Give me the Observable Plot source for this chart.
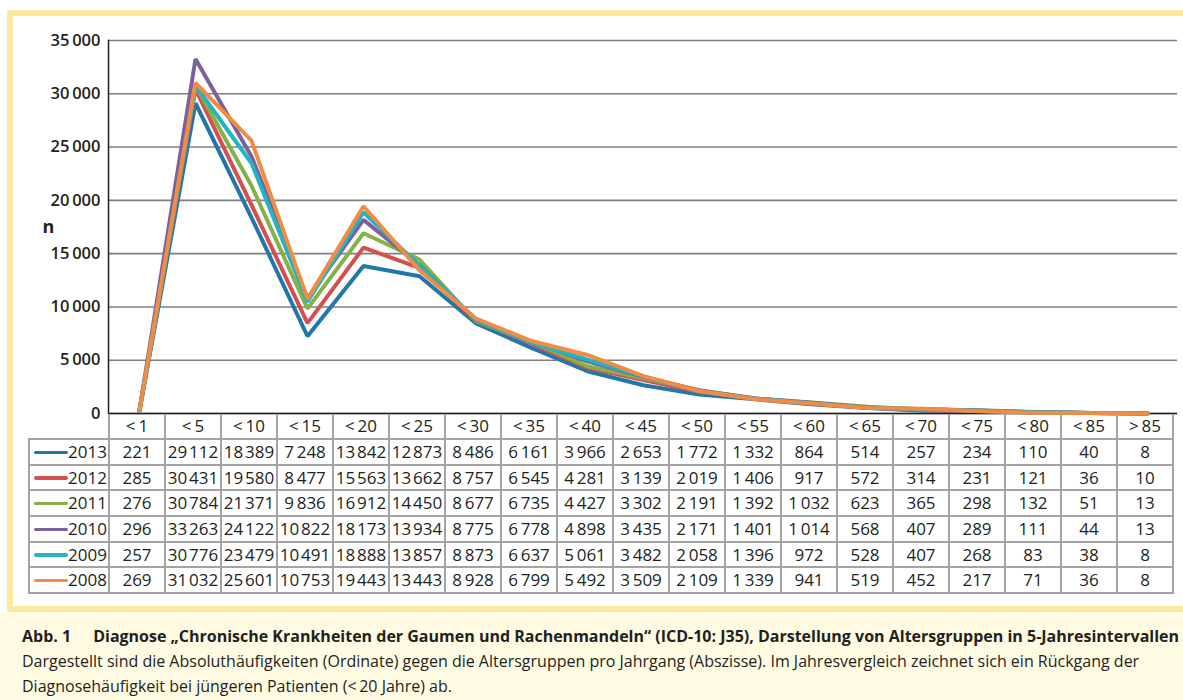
<!DOCTYPE html>
<html>
<head>
<meta charset="utf-8">
<script src="https://cdn.jsdelivr.net/npm/d3@7"></script>
<script src="https://cdn.jsdelivr.net/npm/@observablehq/plot@0.6"></script>
<style>
  html, body { margin: 0; padding: 0; }
  body { width: 1183px; height: 700px; overflow: hidden; position: relative; background: #fff; font-family: "Open Sans", sans-serif; color: #231f20; }
  #frame { position: absolute; left: 7px; top: 10px; width: 1200px; height: 590px; border: 6px solid #fce9a0; background: #fff; }
  #chart { position: absolute; left: 0; top: 0; }
  #tbl { position: absolute; left: 28px; top: 414px; border-collapse: collapse; table-layout: fixed; font-size: 17px; }
  #tbl td { border: 2px solid #a3a3a3; text-align: center; padding: 0; height: 23.7px; line-height: 20px; white-space: nowrap; overflow: hidden; }
  #tbl tr.head td { border-top: none; height: 24px; }
  #tbl tr.head td.corner { border-left: none; border-top: none; }
  #tbl td.leg { text-align: right; padding-right: 1px; }
  .sw { display: inline-block; width: 34px; height: 3.5px; border-radius: 2px; vertical-align: middle; margin-right: 0px; position: relative; top: -1px; }
  #caption { position: absolute; left: 0; top: 612px; width: 1183px; height: 88px; background: #fffbe3; font-size: 16px; line-height: 25px; padding: 12px 0 0 22px; box-sizing: border-box; }
  #caption b { font-weight: 700; }
</style>
</head>
<body>
<div id="frame"></div>
<div id="chart"></div>
<table id="tbl"></table>
<div id="caption">
  <div><b>Abb. 1<span style="display:inline-block;width:22px"></span>Diagnose „Chronische Krankheiten der Gaumen und Rachenmandeln“ (ICD-10: J35), Darstellung von Altersgruppen in 5-Jahresintervallen</b></div>
  <div>Dargestellt sind die Absoluthäufigkeiten (Ordinate) gegen die Altersgruppen pro Jahrgang (Abszisse). Im Jahresvergleich zeichnet sich ein Rückgang der</div>
  <div>Diagnosehäufigkeit bei jüngeren Patienten (&lt;&#8201;20 Jahre) ab.</div>
</div>
<script>
const categories = ["<1","<5","<10","<15","<20","<25","<30","<35","<40","<45","<50","<55","<60","<65","<70","<75","<80","<85",">85"];
const years = [2013, 2012, 2011, 2010, 2009, 2008];
const v2013 = [221,29112,18389,7248,13842,12873,8486,6161,3966,2653,1772,1332,864,514,257,234,110,40,8];
const v2012 = [285,30431,19580,8477,15563,13662,8757,6545,4281,3139,2019,1406,917,572,314,231,121,36,10];
const v2011 = [276,30784,21371,9836,16912,14450,8677,6735,4427,3302,2191,1392,1032,623,365,298,132,51,13];
const v2010 = [296,33263,24122,10822,18173,13934,8775,6778,4898,3435,2171,1401,1014,568,407,289,111,44,13];
const v2009 = [257,30776,23479,10491,18888,13857,8873,6637,5061,3482,2058,1396,972,528,407,268,83,38,8];
const v2008 = [269,31032,25601,10753,19443,13443,8928,6799,5492,3509,2109,1339,941,519,452,217,71,36,8];
const colors = ["#2277a9", "#d4504f", "#87b04b", "#7c629d", "#22b3c4", "#f08c43"];
const yTicks = [0, 5000, 10000, 15000, 20000, 25000, 30000, 35000];
const yLabel = "n";

const series = [v2013, v2012, v2011, v2010, v2009, v2008];
const data = [];
years.forEach((yr, i) => series[i].forEach((v, j) => data.push({year: yr, cat: categories[j], value: v})));

const thin = "\u2009";
const fmt = v => {
  const s = String(v);
  if (s.length <= 3) return s;
  return s.slice(0, s.length - 3) + (s.length >= 5 ? "\u200A" : thin) + s.slice(-3);
};
const fmtTick = v => v === 0 ? "0" : String(v).slice(0, -3) + "\u2009" + String(v).slice(-3);
const fmtCat = c => c.slice(0, 1) + "\u2009" + c.slice(1);

const chart = Plot.plot({
  width: 1183,
  height: 415,
  marginLeft: 108,
  marginRight: 6,
  marginTop: 40,
  marginBottom: 2,
  style: {background: "transparent", overflow: "visible", fontFamily: "Open Sans, sans-serif", fontSize: "16px", color: "#231f20"},
  x: {type: "point", domain: categories, padding: 0.5, axis: null, label: null},
  y: {domain: [0, 35000], ticks: yTicks, axis: null, label: null},
  color: {domain: years, range: colors},
  marks: [
    Plot.gridY(yTicks, {stroke: "#7f7f7f", strokeOpacity: 1, strokeWidth: 1.6}),
    Plot.axisY(yTicks, {tickSize: 0, tickPadding: 8, tickFormat: fmtTick, label: null, fontWeight: 600, fontSize: 16.5, fill: "#231f20"}),
    Plot.text([yLabel], {frameAnchor: "left", dx: -66, text: d => d, fontWeight: 700, fontSize: 18, fill: "#231f20"}),
    Plot.frame({anchor: "left", stroke: "#231f20", strokeWidth: 1.5}),
    Plot.ruleY([0], {stroke: "#231f20", strokeWidth: 1.6}),
    Plot.line(data, {x: "cat", y: "value", z: "year", stroke: "year", strokeWidth: 4, strokeLinejoin: "miter"})
  ]
});
document.getElementById("chart").appendChild(chart);

// data table aligned to the x scale
const xs = chart.scale("x");
const step = xs.step !== undefined ? xs.step : (xs.range[1] - xs.range[0]) / categories.length;
const tbl = document.getElementById("tbl");
const legW = 108 - 28;
tbl.style.width = (legW + step * categories.length) + "px";
const cg = document.createElement("colgroup");
const c0 = document.createElement("col"); c0.style.width = legW + "px"; cg.appendChild(c0);
categories.forEach(() => { const c = document.createElement("col"); c.style.width = step + "px"; cg.appendChild(c); });
tbl.appendChild(cg);
const head = document.createElement("tr"); head.className = "head";
const corner = document.createElement("td"); corner.className = "corner"; head.appendChild(corner);
categories.forEach(c => { const td = document.createElement("td"); td.textContent = fmtCat(c); head.appendChild(td); });
tbl.appendChild(head);
years.forEach((yr, i) => {
  const tr = document.createElement("tr");
  const lg = document.createElement("td"); lg.className = "leg";
  lg.innerHTML = `<span class="sw" style="background:${colors[i]}"></span>${yr}`;
  tr.appendChild(lg);
  series[i].forEach(v => { const td = document.createElement("td"); td.textContent = fmt(v); tr.appendChild(td); });
  tbl.appendChild(tr);
});
</script>
</body>
</html>
